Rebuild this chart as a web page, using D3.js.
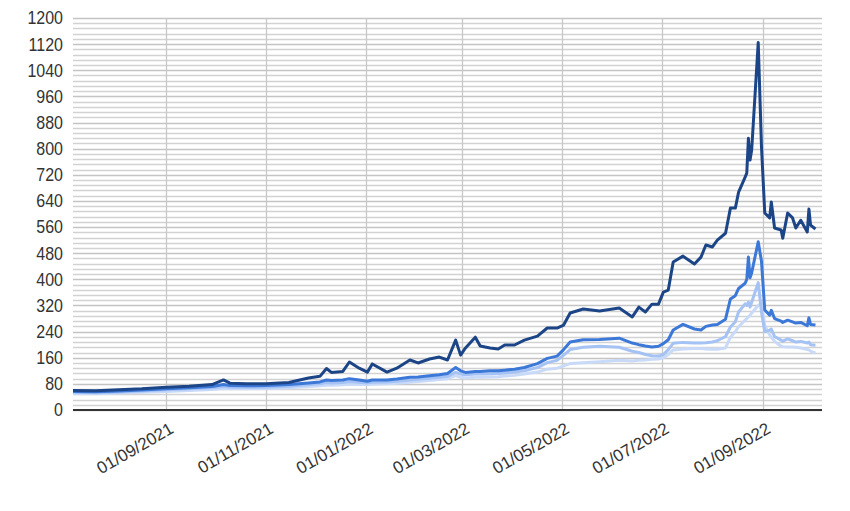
<!DOCTYPE html>
<html>
<head>
<meta charset="utf-8">
<script src="https://cdn.jsdelivr.net/npm/d3@7"></script>
<style>
  html, body { margin: 0; padding: 0; background: #fff; }
  svg { display: block; }
  text { font-family: Arial, "Liberation Sans", sans-serif; fill: #333; }
</style>
</head>
<body>
<svg id="chart" width="850" height="511"></svg>
<script>
// ---- data ----
const dates = [
  "2021-07-06","2021-07-20","2021-08-03","2021-08-17","2021-09-01","2021-09-15","2021-09-29","2021-10-06","2021-10-10","2021-10-20",
  "2021-11-01","2021-11-15","2021-11-27","2021-12-04","2021-12-08","2021-12-11","2021-12-18","2021-12-22","2021-12-28","2022-01-02",
  "2022-01-05","2022-01-14","2022-01-20","2022-01-28","2022-02-02","2022-02-09","2022-02-15","2022-02-20","2022-02-25","2022-02-28",
  "2022-03-03","2022-03-09","2022-03-12","2022-03-18","2022-03-23","2022-03-27","2022-04-02","2022-04-08","2022-04-16","2022-04-22",
  "2022-04-28","2022-05-02","2022-05-06","2022-05-14","2022-05-24","2022-06-05","2022-06-13","2022-06-17","2022-06-21","2022-06-25",
  "2022-06-29","2022-07-02","2022-07-05","2022-07-08","2022-07-14","2022-07-21","2022-07-25","2022-07-28","2022-08-01","2022-08-04",
  "2022-08-09","2022-08-12","2022-08-15","2022-08-17","2022-08-21","2022-08-22","2022-08-23","2022-08-24","2022-08-25","2022-08-29",
  "2022-08-31","2022-09-02","2022-09-05","2022-09-06","2022-09-08","2022-09-12","2022-09-13","2022-09-16","2022-09-19","2022-09-21",
  "2022-09-24","2022-09-28","2022-09-29","2022-09-30","2022-10-03"
];
const series1 = [
  60,59,62,65,70,73,78,92,82,80,
  80,84,98,103,127,115,118,147,128,116,
  141,116,128,153,144,156,162,153,214,168,
  190,223,196,190,187,199,199,214,226,251,
  251,260,297,309,303,312,285,315,300,324,
  324,361,367,453,471,447,468,505,499,520,
  541,618,618,667,713,725,832,765,796,1125,
  805,603,588,637,557,551,526,603,588,557,
  581,545,615,566,554
];
const series2 = [
  57,56,58,61,65,68,72,78,75,74,
  75,78,83,86,92,90,92,96,92,88,
  92,92,95,100,101,105,108,112,130,120,
  115,118,118,120,120,122,125,130,142,158,
  165,185,208,215,216,220,205,200,196,193,
  195,203,215,245,262,248,245,256,260,262,
  278,340,350,372,388,400,468,405,420,515,
  455,306,290,305,280,272,268,275,270,266,
  268,258,282,262,260
];
const series3 = [
  54,53,55,58,62,65,68,72,70,70,
  70,73,78,80,84,83,84,87,85,83,
  85,86,88,92,94,97,100,103,115,110,
  108,110,110,111,112,113,116,120,130,145,
  152,168,185,192,195,192,180,176,170,166,
  165,170,185,204,207,205,205,206,208,212,
  225,254,270,300,325,320,330,315,330,390,
  300,240,244,248,225,214,210,218,212,208,
  210,205,208,200,198
];
const series4 = [
  50,50,52,54,57,60,63,66,65,65,
  66,68,72,74,76,76,77,79,78,78,
  79,80,82,85,87,90,93,96,105,100,
  98,100,100,101,102,104,106,110,116,125,
  128,135,142,145,148,152,150,152,153,155,
  156,160,170,184,187,188,188,187,186,186,
  190,223,240,255,275,280,285,290,297,320,
  327,260,230,223,210,195,194,193,193,192,
  190,185,184,180,174
];
const seriesList = [series4, series3, series2, series1];
const seriesColors = ["#c9daf8", "#a4c2f4", "#3c78d8", "#1c4587"];
const yTicks = [0,80,160,240,320,400,480,560,640,720,800,880,960,1040,1120,1200];
const xTickLabels = ["01/09/2021","01/11/2021","01/01/2022","01/03/2022","01/05/2022","01/07/2022","01/09/2022"];
const xDomainLabels = ["2021-07-06","2022-10-07"];

// ---- chart ----
(function () {
const parseISO = d3.timeParse("%Y-%m-%d");
const parseDMY = d3.timeParse("%d/%m/%Y");
const svg = d3.select("#chart");
const mLeft = 73, mRight = 822, mTop = 18, mBottom = 410;

const x = d3.scaleTime().domain(xDomainLabels.map(parseISO)).range([mLeft, mRight]);
const y = d3.scaleLinear().domain([0, 1200]).range([mBottom, mTop]);

// minor + major horizontal gridlines
const gridVals = d3.range(0, 1201, 16);
svg.append("g").selectAll("line").data(gridVals).join("line")
  .attr("x1", mLeft).attr("x2", mRight)
  .attr("y1", d => Math.round(y(d)) + 0.5).attr("y2", d => Math.round(y(d)) + 0.5)
  .attr("stroke", d => d % 80 === 0 ? "#c4c4c4" : "#d2d2d2")
  .attr("stroke-width", 1.3);

// vertical gridlines
const xTickDates = xTickLabels.map(parseDMY);
svg.append("g").selectAll("line").data(xTickDates).join("line")
  .attr("x1", d => Math.round(x(d)) + 0.5).attr("x2", d => Math.round(x(d)) + 0.5)
  .attr("y1", mTop).attr("y2", mBottom)
  .attr("stroke", "#c8c8c8").attr("stroke-width", 1.3);

// y axis labels
const yAxis = d3.axisLeft(y).tickValues(yTicks).tickSize(0).tickPadding(10).tickFormat(d3.format("d"));
const yg = svg.append("g").attr("transform", `translate(${mLeft},0)`).call(yAxis);
yg.select(".domain").remove();
yg.selectAll("text").style("font-size", "16px").attr("fill", "#333")
  .style("font-family", "Arial, 'Liberation Sans', sans-serif")
  .attr("transform", "scale(1,1.15)");

// x axis labels
const xAxis = d3.axisBottom(x).tickValues(xTickDates).tickSize(0).tickFormat(d3.timeFormat("%d/%m/%Y"));
const xg = svg.append("g").attr("transform", `translate(0,${mBottom})`).call(xAxis);
xg.select(".domain").remove();
xg.selectAll("text")
  .style("font-size", "17px").attr("fill", "#333")
  .style("font-family", "Arial, 'Liberation Sans', sans-serif")
  .attr("text-anchor", "end")
  .attr("dy", null).attr("y", 0)
  .attr("transform", "translate(8,22) rotate(-30)");

// baseline
svg.append("line")
  .attr("x1", mLeft).attr("x2", mRight)
  .attr("y1", y(0)).attr("y2", y(0))
  .attr("stroke", "#333").attr("stroke-width", 2);

// lines
const parsedDates = dates.map(parseISO);
const line = d3.line()
  .x((d, i) => x(parsedDates[i]))
  .y(d => y(d));
seriesList.forEach((s, k) => {
  svg.append("path")
    .datum(s)
    .attr("fill", "none")
    .attr("stroke", seriesColors[k])
    .attr("stroke-width", 3)
    .attr("stroke-linejoin", "round")
    .attr("d", line);
});
})();
</script>
</body>
</html>
